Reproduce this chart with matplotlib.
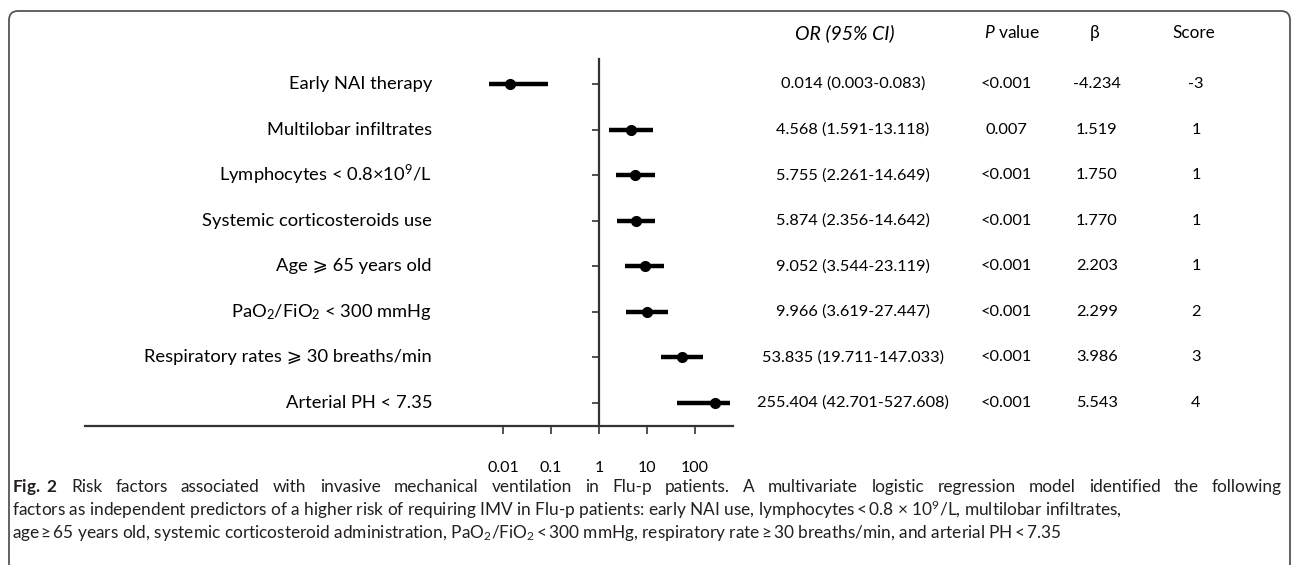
import matplotlib.pyplot as plt
import numpy as np
from matplotlib.patches import FancyBboxPatch
from matplotlib.transforms import IdentityTransform
from matplotlib.ticker import NullLocator

plt.rcParams['font.family'] = ['Lato', 'DejaVu Sans']
plt.rcParams['mathtext.fontset'] = 'custom'
plt.rcParams['mathtext.rm'] = 'Lato'
plt.rcParams['mathtext.it'] = 'Lato:italic'
plt.rcParams['mathtext.bf'] = 'Lato:bold'

# --- datos ---
factores = [
    'Early NAI therapy',
    'Multilobar infiltrates',
    'Lymphocytes < 0.8×10$^{9}$/L',
    'Systemic corticosteroids use',
    'Age \u2a7e 65 years old',
    'PaO$_{2}$/FiO$_{2}$ < 300 mmHg',
    'Respiratory rates \u2a7e 30 breaths/min',
    'Arterial PH < 7.35',
]
odds = [0.014, 4.568, 5.755, 5.874, 9.052, 9.966, 53.835, 255.404]
ic_inf = [0.005, 1.591, 2.261, 2.356, 3.544, 3.619, 19.711, 42.701]
ic_sup = [0.087, 13.118, 14.649, 14.642, 23.119, 27.447, 147.033, 527.608]
or_texto = ['0.014 (0.003-0.083)', '4.568 (1.591-13.118)', '5.755 (2.261-14.649)',
            '5.874 (2.356-14.642)', '9.052 (3.544-23.119)', '9.966 (3.619-27.447)',
            '53.835 (19.711-147.033)', '255.404 (42.701-527.608)']
p_texto = ['<0.001', '0.007', '<0.001', '<0.001', '<0.001', '<0.001', '<0.001', '<0.001']
beta_texto = ['-4.234', '1.519', '1.750', '1.770', '2.203', '2.299', '3.986', '5.543']
puntaje = ['-3', '1', '1', '1', '1', '2', '3', '4']
ticks_x = [0.01, 0.1, 1, 10, 100]
ticks_etiq = ['0.01', '0.1', '1', '10', '100']

pie_1 = (r'$\bf{Fig.\ 2}$ Risk factors associated with invasive mechanical ventilation in '
         'Flu-p patients. A multivariate logistic regression model identified the following')
pie_2 = ('factors as independent predictors of a higher risk of requiring IMV in Flu-p '
         'patients: early NAI use, lymphocytes\u2009<\u20090.8 × 10$^{9}$/L, multilobar infiltrates,')
pie_3 = ('age\u2009≥\u200965 years old, systemic corticosteroid administration, '
         'PaO$_{2}$/FiO$_{2}$\u2009<\u2009300 mmHg, respiratory rate\u2009≥\u200930 breaths/min, '
         'and arterial PH\u2009<\u20097.35')

W, H = 1295, 565
fig = plt.figure(figsize=(W / 100, H / 100), dpi=100)


def px(x, y):
    return x / W, 1 - y / H


# marco redondeado
marco = FancyBboxPatch((9, -10), 1281, H - 11 + 10, boxstyle='round,pad=0,rounding_size=9',
                       transform=IdentityTransform(), fill=False, edgecolor='#555555', lw=1.3)
fig.patches.append(marco)

# --- forest plot ---
ax = fig.add_axes([85 / W, 1 - 426 / H, (733 - 85) / W, (426 - 59) / H])
ax.set_xscale('log')
ax.set_xlim(10 ** ((85 - 599) / 48), 10 ** ((733 - 599) / 48))
ax.set_ylim(7.505, -0.549)
y = np.arange(len(factores))

ax.hlines(y, ic_inf, ic_sup, color='black', lw=3.2)
ax.plot(odds, y, 'o', color='black', ms=7)

ax.spines['top'].set_visible(False)
ax.spines['right'].set_visible(False)
ax.spines['left'].set_position(('data', 1))
for s in ('left', 'bottom'):
    ax.spines[s].set_color('#333333')
    ax.spines[s].set_linewidth(1.6)
ax.set_yticks(y)
ax.set_yticklabels([])
ax.tick_params(axis='y', length=5, width=1.2, color='#333333')
ax.set_xticks(ticks_x)
ax.set_xticklabels(ticks_etiq)
ax.xaxis.set_minor_locator(NullLocator())
ax.tick_params(axis='x', length=6, width=1.2, color='#333333', pad=19, labelsize=11.5)
ax.patch.set_visible(False)

# etiquetas de filas y columnas de la tabla
fs_lab = 13.2
fs = 11.8
for i in range(len(factores)):
    yy = 84 + 45.57 * i
    fig.text(*px(432, yy), factores[i], ha='right', va='center', fontsize=fs_lab)
    fig.text(*px(853, yy), or_texto[i], ha='center', va='center', fontsize=fs)
    fig.text(*px(1006, yy), p_texto[i], ha='center', va='center', fontsize=fs)
    fig.text(*px(1097, yy), beta_texto[i], ha='center', va='center', fontsize=fs)
    fig.text(*px(1196, yy), puntaje[i], ha='center', va='center', fontsize=fs)

fig.text(*px(845, 33), 'OR (95% CI)', ha='center', va='center', fontsize=14, style='italic')
fig.text(*px(1012, 33), '$\\it{P}$ value', ha='center', va='center', fontsize=12.5)
fig.text(*px(1095, 33), 'β', ha='center', va='center', fontsize=12.5)
fig.text(*px(1194, 33), 'Score', ha='center', va='center', fontsize=12.3)

# pie de figura
col = '#231f20'
fc = 12.4
r = fig.canvas.get_renderer()


def linea_justificada(texto, yy, x0, x1):
    palabras = texto.split(' ')
    # no partir el texto matemático en negrita
    palabras = [palabras[0] + ' ' + palabras[1]] + palabras[2:]
    objs = [fig.text(*px(x0, yy), p, ha='left', va='center', fontsize=fc, color=col)
            for p in palabras]
    anchos = [o.get_window_extent(r).width for o in objs]
    hueco = (x1 - x0 - sum(anchos)) / (len(objs) - 1)
    x = x0
    for o, a in zip(objs, anchos):
        o.set_position(px(x, yy))
        x += a + hueco


linea_justificada(pie_1, 487, 12, 1282)
fig.text(*px(12, 510), pie_2, ha='left', va='center', fontsize=fc, color=col)
fig.text(*px(12, 533), pie_3, ha='left', va='center', fontsize=fc, color=col)

fig.savefig('out.png', dpi=100)
